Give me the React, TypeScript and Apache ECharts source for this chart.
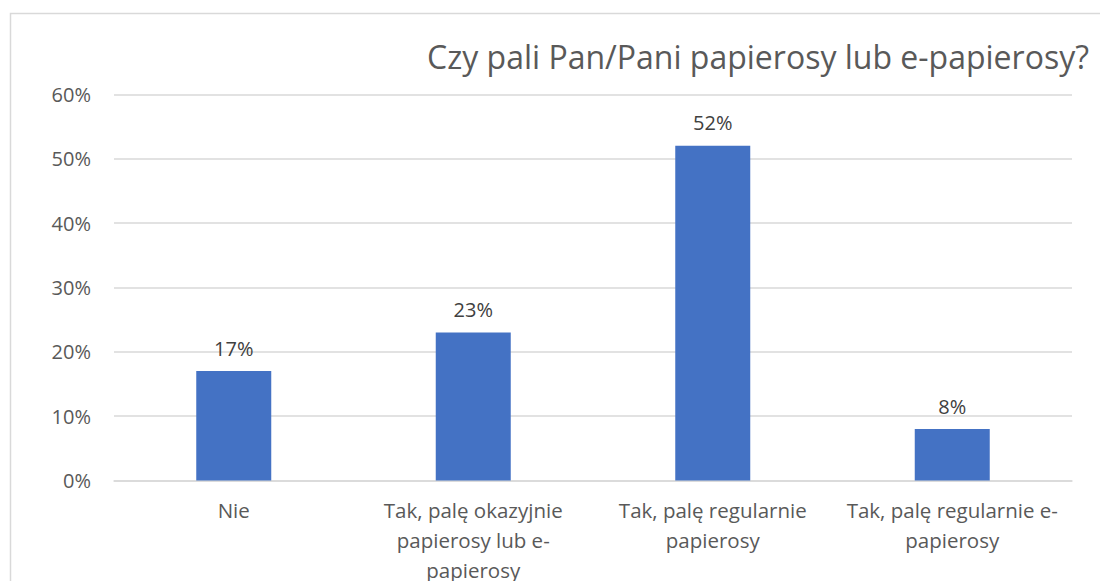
import React, { useEffect, useRef } from "react";
import * as echarts from "echarts";

const categories = [
  "Nie",
  "Tak, palę okazyjnie\npapierosy lub e-\npapierosy",
  "Tak, palę regularnie\npapierosy",
  "Tak, palę regularnie e-\npapierosy",
];
const values = [17, 23, 52, 8];
const titleText = "Czy pali Pan/Pani papierosy lub e-papierosy?";

export default function App() {
  const ref = useRef<HTMLDivElement>(null);
  useEffect(() => {
    if (!ref.current) return;
    const chart = echarts.init(ref.current, undefined, { renderer: "svg" });
    const font = "Open Sans";
    chart.setOption({
      animation: false,
      backgroundColor: "#ffffff",
      title: {
        text: titleText,
        right: 6,
        top: 35,
        textStyle: { fontFamily: font, fontSize: 32, fontWeight: "normal", color: "#595959" },
      },
      graphic: [
        {
          type: "rect",
          shape: { x: 10.5, y: 13.5, width: 1200, height: 700 },
          style: { fill: "none", stroke: "#d9d9d9", lineWidth: 1.5 },
          silent: true,
        },
      ],
      grid: {
        left: 114,
        right: 28,
        top: 94.3,
        bottom: 100.5,
        containLabel: false,
        outerBoundsMode: "none",
      },
      xAxis: {
        type: "category",
        data: categories,
        axisLine: { show: true, lineStyle: { color: "#d9d9d9", width: 1.5 } },
        axisTick: { show: false },
        axisLabel: {
          color: "#595959",
          fontFamily: font,
          fontSize: 20.5,
          lineHeight: 30,
          margin: 14,
          interval: 0,
        },
      },
      yAxis: {
        type: "value",
        min: 0,
        max: 60,
        interval: 10,
        axisLine: { show: false },
        axisTick: { show: false },
        splitLine: { lineStyle: { color: "#d9d9d9", width: 1.5 } },
        axisLabel: {
          formatter: "{value}%",
          color: "#595959",
          fontFamily: font,
          fontSize: 20,
          margin: 23,
        },
      },
      series: [
        {
          type: "bar",
          data: values,
          barWidth: 75,
          itemStyle: { color: "#4472C4" },
          label: {
            show: true,
            position: "top",
            distance: 13,
            formatter: "{c}%",
            color: "#404040",
            fontFamily: font,
            fontSize: 20,
          },
        },
      ],
    });
    return () => chart.dispose();
  }, []);
  return (
    <div
      ref={ref}
      style={{ position: "absolute", left: 0, top: 0, width: 1100, height: 581 }}
    />
  );
}
